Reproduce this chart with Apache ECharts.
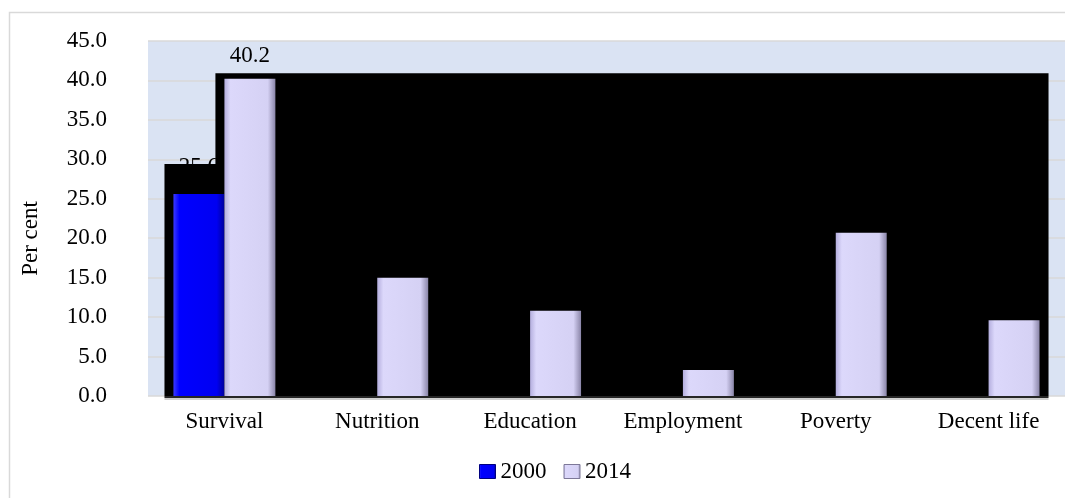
<!DOCTYPE html>
<html>
<head>
<meta charset="utf-8">
<title>Per cent by dimension, 2000 and 2014</title>
<script src="https://cdn.jsdelivr.net/npm/echarts@6/dist/echarts.min.js"></script>
<style>
  html, body { margin: 0; padding: 0; background: #fff; }
  #chart { width: 1065px; height: 498px; }
</style>
</head>
<body>
<div id="chart"></div>
<script>
// categories and values
const categories = ['Survival', 'Nutrition', 'Education', 'Employment', 'Poverty', 'Decent life'];
const years = ['2000', '2014'];
const values2000 = [25.6, null, null, null, null, null];
const values2014 = [40.2, 15.0, 10.8, 3.3, 20.7, 9.6];
const yTicks = { min: 0, max: 45, interval: 5 };
// black panels behind each series: [first category, last category, top value, bar slot]
const blackPanels = [
  [0, 0, 29.4, -1],
  [0, 5, 40.9, 0]
];

const font = 'Liberation Serif, Times New Roman, serif';

const grad2000 = new echarts.graphic.LinearGradient(0, 0, 1, 0, [
  { offset: 0, color: '#3a3aff' },
  { offset: 0.12, color: '#0000ff' },
  { offset: 0.85, color: '#0000f2' },
  { offset: 1, color: '#00009a' }
]);
const grad2014 = new echarts.graphic.LinearGradient(0, 0, 1, 0, [
  { offset: 0, color: '#b4aede' },
  { offset: 0.12, color: '#dcd8fb' },
  { offset: 0.85, color: '#d5d1f4' },
  { offset: 1, color: '#8a85a8' }
]);

const chart = echarts.init(document.getElementById('chart'));

function labelStyle(distance) {
  return {
    show: true, position: 'top', distance: distance,
    fontFamily: font, fontSize: 23, color: '#000',
    formatter: p => p.value.toFixed(1)
  };
}

const option = {
  backgroundColor: '#ffffff',
  animation: false,
  graphic: [{
    type: 'rect',
    shape: { x: 9.5, y: 12.5, width: 1200, height: 600 },
    style: { fill: 'none', stroke: '#d9d9d9', lineWidth: 1.5 },
    silent: true
  }],
  grid: {
    left: 148, right: 0, top: 41, bottom: 102,
    show: true,
    backgroundColor: '#dae3f3',
    borderWidth: 0
  },
  legend: {
    left: 474, top: 455,
    itemWidth: 16, itemHeight: 14, itemGap: 17,
    textStyle: { fontFamily: font, fontSize: 23, color: '#000' },
    data: [
      { name: '2000', icon: 'rect', itemStyle: { color: grad2000, borderColor: '#000080', borderWidth: 1, opacity: 1 } },
      { name: '2014', icon: 'rect', itemStyle: { color: grad2014, borderColor: '#7d7898', borderWidth: 1, opacity: 1 } }
    ]
  },
  xAxis: [{
    type: 'category',
    data: categories,
    axisLine: { show: false },
    axisTick: { show: false },
    axisLabel: { fontFamily: font, fontSize: 23, color: '#000', margin: 14, interval: 0 }
  }, {
    type: 'category',
    data: categories,
    show: false
  }],
  yAxis: {
    type: 'value',
    min: yTicks.min, max: yTicks.max, interval: yTicks.interval,
    name: 'Per cent',
    nameLocation: 'middle',
    nameRotate: 90,
    nameGap: 106,
    nameTextStyle: { fontFamily: font, fontSize: 23, color: '#000', padding: [0, 40, 0, 0] },
    axisLine: { show: false },
    axisTick: { show: false },
    axisLabel: {
      fontFamily: font, fontSize: 23, color: '#000', margin: 41,
      formatter: v => v.toFixed(1)
    },
    splitLine: { lineStyle: { color: '#d9d9d9', width: 1.5 } }
  },
  series: [
    {
      name: '2000', type: 'bar', data: values2000, z: 3,
      barGap: 0, barCategoryGap: '33.3%',
      itemStyle: { color: grad2000 }
    },
    {
      name: '2014', type: 'bar', data: values2014, z: 3,
      barGap: 0, barCategoryGap: '33.3%',
      itemStyle: { color: grad2014 }
    },
    // value labels sit under the black panels, so they get their own layer
    {
      name: '2000', type: 'bar', xAxisIndex: 1, data: values2000, z: 1,
      barGap: 0, barCategoryGap: '33.3%', silent: true,
      itemStyle: { color: 'rgba(0,0,0,0)' },
      label: labelStyle(16)
    },
    {
      name: '2014', type: 'bar', xAxisIndex: 1, data: values2014, z: 1,
      barGap: 0, barCategoryGap: '33.3%', silent: true,
      itemStyle: { color: 'rgba(0,0,0,0)' },
      label: labelStyle(11)
    },
    {
      name: 'panel', type: 'custom', z: 2, silent: true,
      data: blackPanels,
      encode: { x: [0, 1], y: 2 },
      renderItem(params, api) {
        const band = api.size([1, 0])[0];
        const barW = band / 3;
        const slot = api.value(3);
        const x0 = api.coord([api.value(0), 0])[0] + slot * barW - 9;
        const x1 = api.coord([api.value(1), 0])[0] + (slot + 1) * barW + 9;
        const yTop = api.coord([0, api.value(2)])[1];
        const yBase = api.coord([0, 0])[1];
        return {
          type: 'group',
          children: [
            {
              type: 'rect',
              shape: { x: x0, y: yTop, width: x1 - x0, height: yBase - yTop },
              style: { fill: '#000' }
            },
            {
              type: 'line',
              shape: { x1: x0, y1: yBase + 1, x2: x1, y2: yBase + 1 },
              style: { stroke: '#262626', lineWidth: 2 }
            },
            {
              type: 'line',
              shape: { x1: x0, y1: yBase + 3, x2: x1, y2: yBase + 3 },
              style: { stroke: '#d0d0d0', lineWidth: 2 }
            }
          ]
        };
      }
    }
  ]
};

chart.setOption(option);
</script>
</body>
</html>
